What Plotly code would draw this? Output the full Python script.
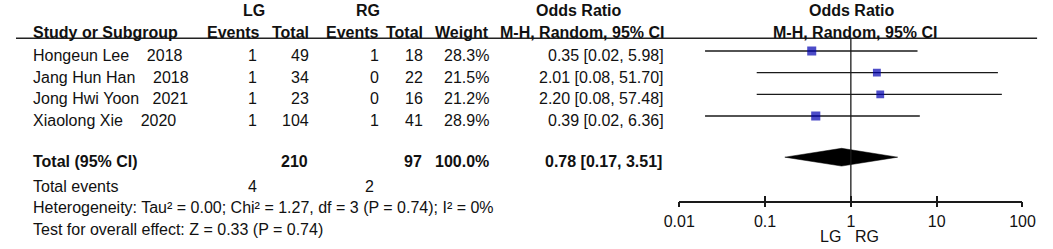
import plotly.graph_objects as go
import math

# ---------------- data ----------------
studies = ["Hongeun Lee    2018", "Jang Hun Han    2018", "Jong Hwi Yoon   2021", "Xiaolong Xie    2020"]
lg_events = [1, 1, 1, 1]
lg_total = [49, 34, 23, 104]
rg_events = [1, 0, 0, 1]
rg_total = [18, 22, 16, 41]
weights = [28.3, 21.5, 21.2, 28.9]
or_est = [0.35, 2.01, 2.20, 0.39]
or_lo = [0.02, 0.08, 0.08, 0.02]
or_hi = [5.98, 51.70, 57.48, 6.36]

total_lg = 210
total_rg = 97
total_weight = 100.0
pooled = 0.78
pooled_lo = 0.17
pooled_hi = 3.51
events_lg = 4
events_rg = 2

heterogeneity = "Heterogeneity: Tau² = 0.00; Chi² = 1.27, df = 3 (P = 0.74); I² = 0%"
overall = "Test for overall effect: Z = 0.33 (P = 0.74)"

tick_vals = [0.01, 0.1, 1, 10, 100]
tick_text = ["0.01", "0.1", "1", "10", "100"]

# ---------------- layout helpers ----------------
W, H = 1053, 249
FONT = "Liberation Sans, Arial, sans-serif"
FS = 16
INK = "#111111"


def px(x):
    return x / W


def py(y):
    return 1 - y / H


rows = list(range(len(studies)))
total_row = 4.9
row_top_px, row_gap_px = 51.0, 21.67
ydom_top_px, ydom_bot_px = 38.3, 200.7
y_range_top = -(row_top_px - ydom_top_px) / row_gap_px
y_range_bot = (ydom_bot_px - row_top_px) / row_gap_px

fig = go.Figure()

# confidence-interval lines
cx, cy = [], []
for i, lo, hi in zip(rows, or_lo, or_hi):
    cx += [lo, hi, None]
    cy += [i, i, None]
fig.add_trace(go.Scatter(x=cx, y=cy, mode="lines",
                         line=dict(color="#1a1a1a", width=1.3),
                         hoverinfo="skip", showlegend=False))

# study squares, sized by weight
fig.add_trace(go.Scatter(x=or_est, y=rows, mode="markers",
                         marker=dict(symbol="square", color="#0000B0",
                                     size=[1.7 * math.sqrt(w) for w in weights],
                                     line=dict(width=0)),
                         hoverinfo="skip", showlegend=False))

# pooled diamond
hh = 0.41
fig.add_trace(go.Scatter(x=[pooled_lo, pooled, pooled_hi, pooled, pooled_lo],
                         y=[total_row, total_row - hh, total_row, total_row + hh, total_row],
                         mode="lines", fill="toself", fillcolor="black",
                         line=dict(color="black", width=0.5),
                         hoverinfo="skip", showlegend=False))

# invisible trace on x2 so the overlay tick axis renders
fig.add_trace(go.Scatter(x=[1], y=[0], xaxis="x2", yaxis="y", mode="markers",
                         marker=dict(opacity=0), hoverinfo="skip", showlegend=False))

annotations = []


def ann(text, x, y, xanchor="left", yref="paper", bold=False, yshift=0):
    t = text.replace(" ", "\u00a0") if "  " in text else text
    if bold:
        t = "<b>" + t + "</b>"
    annotations.append(dict(text=t, x=x, y=y, xref="paper", yref=yref,
                            xanchor=xanchor, yanchor="middle", showarrow=False,
                            yshift=yshift,
                            font=dict(family=FONT, size=FS, color=INK)))


# headers
ann("LG", px(245), py(10.5), "center", bold=True)
ann("RG", px(362), py(10.5), "center", bold=True)
ann("Odds Ratio", px(579), py(10.5), "center", bold=True)
ann("Odds Ratio", px(859.5), py(10.5), "center", bold=True)
ann("Study or Subgroup", px(15), py(32.5), "left", bold=True)
ann("Events", px(253), py(32.5), "right", bold=True)
ann("Total", px(303), py(32.5), "right", bold=True)
ann("Events", px(375), py(32.5), "right", bold=True)
ann("Total", px(421), py(32.5), "right", bold=True)
ann("Weight", px(488), py(32.5), "right", bold=True)
ann("M-H, Random, 95% CI", px(668), py(32.5), "right", bold=True)
ann("M-H, Random, 95% CI", px(863), py(32.5), "center", bold=True)

# study rows
TS = -4.5
for i in rows:
    ann(studies[i], px(15), i, "left", yref="y", yshift=TS)
    ann(str(lg_events[i]), px(250), i, "right", yref="y", yshift=TS)
    ann(str(lg_total[i]), px(303), i, "right", yref="y", yshift=TS)
    ann(str(rg_events[i]), px(375), i, "right", yref="y", yshift=TS)
    ann(str(rg_total[i]), px(421), i, "right", yref="y", yshift=TS)
    ann(f"{weights[i]:.1f}%", px(488), i, "right", yref="y", yshift=TS)
    ann(f"{or_est[i]:.2f} [{or_lo[i]:.2f}, {or_hi[i]:.2f}]", px(668), i, "right", yref="y", yshift=TS)

# total row
ann("Total (95% CI)", px(15), total_row, "left", yref="y", bold=True, yshift=TS)
ann(str(total_lg), px(302), total_row, "right", yref="y", bold=True, yshift=TS)
ann(str(total_rg), px(420), total_row, "right", yref="y", bold=True, yshift=TS)
ann(f"{total_weight:.1f}%", px(488), total_row, "right", yref="y", bold=True, yshift=TS)
ann(f"{pooled:.2f} [{pooled_lo:.2f}, {pooled_hi:.2f}]", px(666), total_row, "right", yref="y", bold=True, yshift=TS)

# footer
ann("Total events", px(15), py(186))
ann(str(events_lg), px(250), py(186), "right")
ann(str(events_rg), px(370), py(186), "right")
ann(heterogeneity, px(15), py(207.5))
ann(overall, px(15), py(229))
ann("LG", px(838), py(236), "center")
ann("RG", px(875), py(236), "center")

shapes = [
    # header underline
    dict(type="line", xref="paper", yref="paper", x0=0, x1=px(1050),
         y0=py(38.3), y1=py(38.3), line=dict(color="#222222", width=1.5)),
    # line of no effect
    dict(type="line", xref="x", yref="y domain", x0=1, x1=1, y0=0, y1=1,
         line=dict(color="#1a1a1a", width=1.3)),
]

xdom = [px(682), px(1035)]
fig.update_layout(
    width=W, height=H,
    margin=dict(l=0, r=0, t=0, b=0),
    paper_bgcolor="white", plot_bgcolor="white",
    showlegend=False,
    font=dict(family=FONT, size=FS, color=INK),
    xaxis=dict(type="log", range=[-2, 2], domain=xdom, anchor="y",
               showgrid=False, zeroline=False, showline=True,
               linecolor="#1a1a1a", linewidth=1.5,
               ticks="outside", ticklen=5, tickwidth=1.5, tickcolor="#1a1a1a",
               tickvals=tick_vals, ticktext=tick_text,
               tickfont=dict(family=FONT, size=FS, color=INK)),
    xaxis2=dict(type="log", range=[-2, 2], domain=xdom, anchor="y",
                overlaying="x", showgrid=False, zeroline=False, showline=False,
                ticks="inside", ticklen=5, tickwidth=1.5, tickcolor="#1a1a1a",
                tickvals=tick_vals, showticklabels=False),
    yaxis=dict(range=[y_range_bot, y_range_top],
               domain=[py(ydom_bot_px), py(ydom_top_px)],
               showticklabels=False, showgrid=False, zeroline=False,
               showline=False, ticks=""),
    annotations=annotations,
    shapes=shapes,
)

fig.write_html("out.html", config={"displayModeBar": False},
               post_script="document.body.style.margin='0';")
